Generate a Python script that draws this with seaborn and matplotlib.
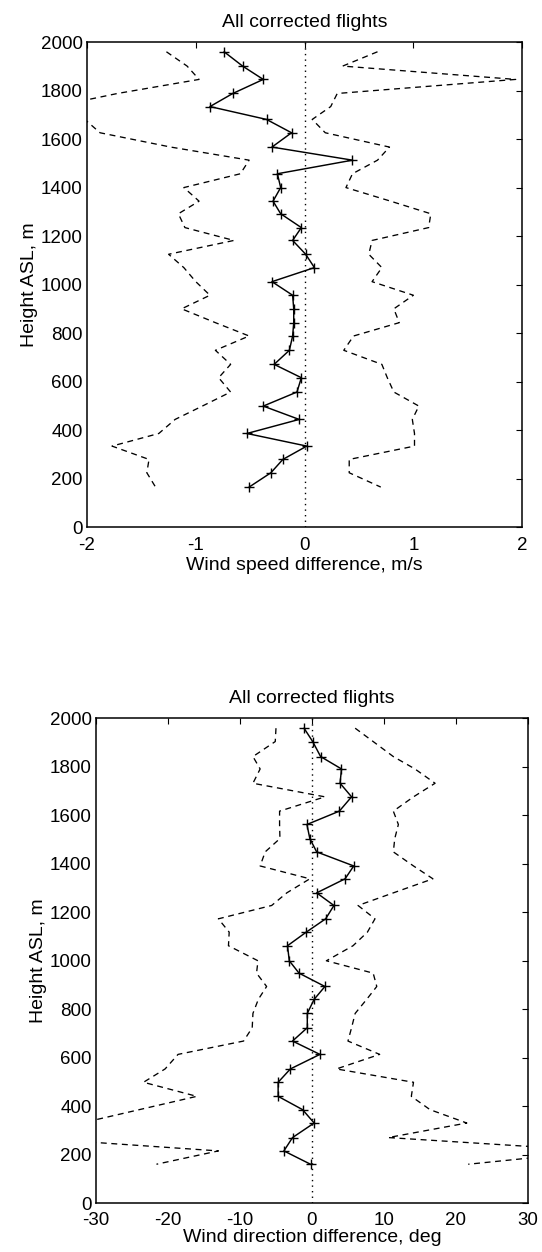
import matplotlib
matplotlib.use("Agg")
import matplotlib.pyplot as plt
import seaborn as sns
import numpy as np
import pandas as pd

# ---------------- data: top panel (wind speed difference, m/s) ----------------
h_spd = [1960, 1901, 1846, 1788, 1734, 1681, 1626, 1567, 1513, 1457, 1400,
         1344, 1292, 1235, 1182, 1125, 1070, 1012, 956, 900, 843, 788, 729,
         671, 616, 557, 499, 444, 386, 334, 279, 224, 165]
spd_mean = [-0.74, -0.57, -0.38, -0.66, -0.87, -0.35, -0.12, -0.30, 0.44, -0.25, -0.22,
            -0.29, -0.22, -0.03, -0.11, 0.01, 0.09, -0.30, -0.11, -0.10, -0.10, -0.11, -0.14,
            -0.28, -0.03, -0.07, -0.38, -0.05, -0.53, 0.02, -0.20, -0.31, -0.51]
spd_low = [-1.27, -1.08, -0.97, -1.72, -2.30, -2.02, -1.88, -1.23, -0.51, -0.59, -1.11,
           -0.97, -1.16, -1.10, -0.65, -1.25, -1.11, -1.00, -0.87, -1.13, -0.82, -0.51, -0.82,
           -0.68, -0.79, -0.68, -0.94, -1.19, -1.34, -1.77, -1.43, -1.45, -1.37]
spd_high = [0.67, 0.35, 1.94, 0.30, 0.24, 0.07, 0.19, 0.78, 0.67, 0.44, 0.38,
            0.79, 1.16, 1.14, 0.62, 0.59, 0.71, 0.62, 1.00, 0.82, 0.87, 0.45, 0.36,
            0.71, 0.76, 0.82, 1.05, 0.99, 1.01, 1.01, 0.41, 0.41, 0.70]

# ---------------- data: bottom panel (wind direction difference, deg) ----------------
h_dir = [1958, 1903, 1841, 1790, 1731, 1675, 1616, 1561, 1503, 1448, 1390,
         1337, 1279, 1227, 1172, 1117, 1061, 999, 948, 893, 840, 782, 723,
         668, 613, 553, 498, 440, 385, 330, 270, 215, 160]
dir_mean = [-1.1, 0.1, 1.2, 4.1, 3.9, 5.5, 3.8, -0.7, -0.3, 0.65, 5.8,
            4.6, 0.65, 3.05, 1.9, -0.8, -3.4, -3.15, -1.8, 1.8, 0.3, -0.65, -0.65,
            -2.7, 1.1, -3.0, -4.7, -4.7, -1.3, 0.3, -2.7, -3.9, -0.2]
dir_low = [-5.0, -5.1, -8.2, -7.2, -8.2, 1.8, -4.5, -4.5, -4.45, -6.5, -7.2,
           -0.3, -3.5, -5.6, -13.0, -11.5, -11.6, -7.5, -7.7, -6.3, -7.45, -8.2, -8.3,
           -9.5, -18.6, -20.4, -23.4, -16.0, -24.0, -32.0, -40.0, -13.0, -21.6]
dir_high = [6.0, 8.5, 11.3, 14.3, 17.1, 14.1, 11.3, 12.0, 11.5, 11.3, 14.1,
            16.8, 11.3, 6.4, 8.75, 7.7, 5.7, 2.0, 8.5, 9.0, 7.6, 6.0, 5.5,
            5.0, 9.4, 3.4, 14.1, 13.8, 16.4, 21.5, 10.6, 40.0, 21.7]

title_txt = "All corrected flights"
ylab = "Height ASL, m"
xlab_top = "Wind speed difference, m/s"
xlab_bot = "Wind direction difference, deg"
xt_top = [-2, -1, 0, 1, 2]
xt_bot = [-30, -20, -10, 0, 10, 20, 30]
yt = list(range(0, 2001, 200))

sns.set_theme(style="white")
plt.rcParams['font.family'] = ['Liberation Sans', 'DejaVu Sans']
plt.rcParams['axes.edgecolor'] = 'black'
plt.rcParams['axes.linewidth'] = 1.1

fig = plt.figure(figsize=(5.42, 12.52), dpi=100)
ax1 = fig.add_axes([0.1605, 0.5790, 0.8030, 0.3874])
ax2 = fig.add_axes([0.1771, 0.0391, 0.7970, 0.3874])


def panel(ax, h, mean, low, high, xlim, xticks, xlabel, xpad, xlabpad):
    df = pd.DataFrame({"h": h, "mean": mean, "low": low, "high": high})
    for col in ["low", "high"]:
        sns.lineplot(data=df, x=col, y="h", ax=ax, sort=False, estimator=None,
                     color="black", lw=0.95, linestyle=(0, (4.5, 3.5)))
    sns.lineplot(data=df, x="mean", y="h", ax=ax, sort=False, estimator=None,
                 color="black", lw=1.05, marker="+", markersize=6.5,
                 markeredgewidth=1.0, markeredgecolor="black")
    ax.axvline(0, color="black", lw=1.0, linestyle=(0, (1, 3)))
    ax.set_xlim(*xlim)
    ax.set_ylim(0, 2000)
    ax.set_xticks(xticks)
    ax.set_yticks(yt)
    ax.set_xticklabels([str(t) for t in xticks])
    ax.set_yticklabels([str(t) for t in yt])
    ax.tick_params(direction="in", length=4, width=0.8, top=True, right=True,
                   labelsize=13.5, colors="black")
    ax.tick_params(axis="x", pad=xpad)
    ax.tick_params(axis="y", pad=3)
    ax.set_xlabel(xlabel, fontsize=14, color="black", labelpad=xlabpad)
    ax.set_ylabel(ylab, fontsize=14, color="black", labelpad=2)
    ax.set_title(title_txt, fontsize=14, color="black", pad=11)
    for s in ax.spines.values():
        s.set_visible(True)
        s.set_color("black")


panel(ax1, h_spd, spd_mean, spd_low, spd_high, (-2, 2), xt_top, xlab_top, 7, 2)
panel(ax2, h_dir, dir_mean, dir_low, dir_high, (-30, 30), xt_bot, xlab_bot, 6.5, 0)

fig.savefig("out.png", dpi=100, facecolor="white")
